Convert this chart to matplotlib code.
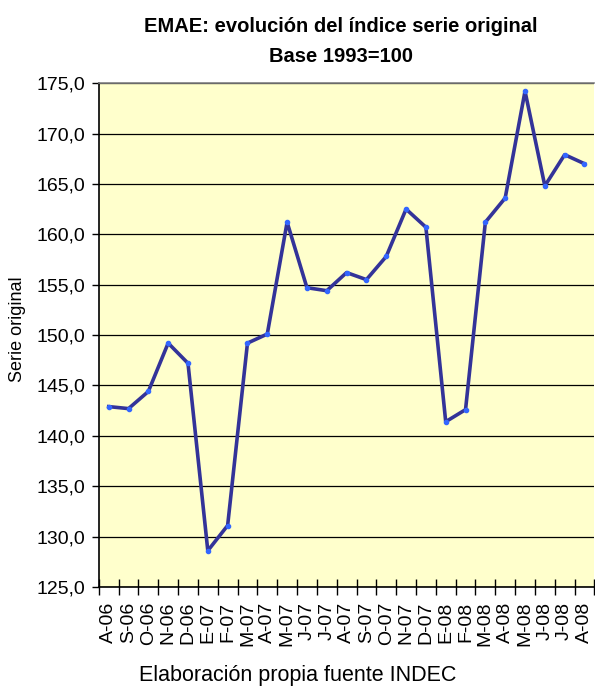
import matplotlib
matplotlib.use("Agg")
import matplotlib.pyplot as plt
from matplotlib.ticker import FuncFormatter

plt.rcParams['font.family'] = ['Liberation Sans', 'DejaVu Sans']

# etiquetas de meses (abr-06 a ago-08)
meses = ['A-06', 'S-06', 'O-06', 'N-06', 'D-06', 'E-07', 'F-07', 'M-07', 'A-07',
         'M-07', 'J-07', 'J-07', 'A-07', 'S-07', 'O-07', 'N-07', 'D-07', 'E-08',
         'F-08', 'M-08', 'A-08', 'M-08', 'J-08', 'J-08', 'A-08']
emae = [142.9, 142.7, 144.4, 149.2, 147.2, 128.6, 131.1, 149.2, 150.1,
        161.2, 154.7, 154.4, 156.2, 155.5, 157.8, 162.5, 160.7, 141.4,
        142.6, 161.2, 163.6, 174.2, 164.8, 167.9, 167.0]
y_ticks = [125, 130, 135, 140, 145, 150, 155, 160, 165, 170, 175]

fig = plt.figure(figsize=(5.95, 6.87), dpi=100)
ax = fig.add_axes([0.166, 0.1456, 0.833, 0.7334])
ax.set_facecolor('#FFFFCC')

x = list(range(len(meses)))
ax.plot(x, emae, color='#333399', linewidth=2.6, marker='o', markersize=3,
        markerfacecolor='#3366FF', markeredgecolor='#3366FF', zorder=3)

ax.set_xlim(-0.5, len(meses) - 0.5)
ax.set_ylim(125, 175)
ax.set_yticks(y_ticks)
ax.yaxis.set_major_formatter(FuncFormatter(lambda v, p: f"{v:.1f}".replace('.', ',')))
ax.grid(axis='y', color='black', linewidth=0.9)
ax.set_axisbelow(True)

ax.set_xticks(x)
ax.set_xticklabels(meses, rotation=90, fontsize=14)
ax.set_xticks([i - 0.5 for i in range(len(meses) + 1)], minor=True)
ax.tick_params(axis='x', which='major', length=0, pad=10.5)
ax.tick_params(axis='x', which='minor', direction='inout', length=12, width=1)
ax.tick_params(axis='y', labelsize=14, length=5, width=1, pad=5)

ax.spines['right'].set_visible(False)
ax.spines['top'].set_color('#808080')
ax.spines['top'].set_linewidth(1.2)
ax.spines['left'].set_linewidth(1.2)
ax.spines['bottom'].set_linewidth(1.2)

fig.text(17.5 / 595, 1 - 329 / 687, 'Serie original', rotation=90, ha='center',
         va='center', fontsize=13)
fig.text(0.573, 1 - 32 / 687, 'EMAE: evolución del índice serie original',
         ha='center', va='baseline', fontsize=14.5, fontweight='bold')
fig.text(0.573, 1 - 62 / 687, 'Base 1993=100', ha='center', va='baseline',
         fontsize=14.5, fontweight='bold')
fig.text(0.5, 1 - 681 / 687, 'Elaboración propia fuente INDEC', ha='center',
         va='baseline', fontsize=15.5)

fig.savefig('out.png', dpi=100)
